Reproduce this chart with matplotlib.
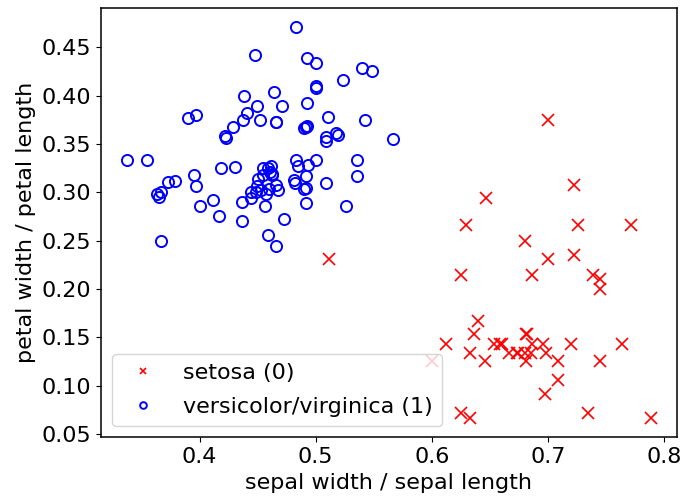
import numpy as np
import matplotlib
matplotlib.use("Agg")
import matplotlib.pyplot as plt

plt.rcParams['font.size'] = 16
plt.rcParams['axes.linewidth'] = 1.1

# iris rows shown in the chart: sepal length, sepal width, petal length, petal width
setosa_sl = [5.1, 4.9, 4.7, 4.6, 5.0, 5.4, 4.6, 5.0, 4.4, 4.9, 5.4, 4.8, 4.8, 4.3,
             5.7, 5.4, 5.1, 5.1, 5.1, 5.1, 4.8, 5.0, 5.0, 5.2, 5.2, 4.7, 4.8, 5.4, 5.2, 5.5,
             4.9, 5.0, 5.5, 4.9, 4.4, 5.1, 5.0, 4.5, 5.0, 5.1, 4.8, 5.1, 4.6, 5.3, 5.0]
setosa_sw = [3.5, 3.0, 3.2, 3.1, 3.6, 3.9, 3.4, 3.4, 2.9, 3.1, 3.7, 3.4, 3.0, 3.0,
             4.4, 3.9, 3.5, 3.8, 3.7, 3.3, 3.4, 3.0, 3.4, 3.5, 3.4, 3.2, 3.1, 3.4, 4.1, 4.2,
             3.1, 3.2, 3.5, 3.6, 3.0, 3.4, 3.5, 2.3, 3.5, 3.8, 3.0, 3.8, 3.2, 3.7, 3.3]
setosa_pl = [1.4, 1.4, 1.3, 1.5, 1.4, 1.7, 1.4, 1.5, 1.4, 1.5, 1.5, 1.6, 1.4, 1.1,
             1.5, 1.3, 1.4, 1.5, 1.5, 1.7, 1.9, 1.6, 1.6, 1.5, 1.4, 1.6, 1.6, 1.5, 1.5, 1.4,
             1.5, 1.2, 1.3, 1.4, 1.3, 1.5, 1.3, 1.3, 1.6, 1.9, 1.4, 1.6, 1.4, 1.5, 1.4]
setosa_pw = [0.2, 0.2, 0.2, 0.2, 0.2, 0.4, 0.3, 0.2, 0.2, 0.1, 0.2, 0.2, 0.1, 0.1,
             0.4, 0.4, 0.3, 0.3, 0.4, 0.5, 0.2, 0.2, 0.4, 0.2, 0.2, 0.2, 0.2, 0.4, 0.1, 0.2,
             0.2, 0.2, 0.2, 0.1, 0.2, 0.2, 0.3, 0.3, 0.6, 0.4, 0.3, 0.2, 0.2, 0.2, 0.2]

versicolor_sl = [7.0, 6.4, 6.9, 5.5, 6.5, 5.7, 4.9, 5.2, 5.0, 5.9, 6.0, 5.6, 6.7, 5.6, 5.8,
                 6.2, 5.9, 6.1, 6.3, 6.1, 6.4, 6.6, 6.8, 6.0, 5.7, 5.5, 5.5, 5.8, 6.0, 6.0,
                 6.7, 6.3, 5.6, 5.5, 5.5, 6.1, 5.8, 5.0, 5.6, 5.7, 5.7, 6.2, 5.1, 5.7]
versicolor_sw = [3.2, 3.2, 3.1, 2.3, 2.8, 2.8, 2.4, 2.7, 2.0, 3.0, 2.2, 2.9, 3.1, 3.0, 2.7,
                 2.2, 3.2, 2.8, 2.5, 2.8, 2.9, 3.0, 2.8, 2.9, 2.6, 2.4, 2.4, 2.7, 2.7, 3.4,
                 3.1, 2.3, 3.0, 2.5, 2.6, 3.0, 2.6, 2.3, 2.7, 3.0, 2.9, 2.9, 2.5, 2.8]
versicolor_pl = [4.7, 4.5, 4.9, 4.0, 4.6, 4.5, 3.3, 3.9, 3.5, 4.2, 4.0, 3.6, 4.4, 4.5, 4.1,
                 4.5, 4.8, 4.0, 4.9, 4.7, 4.3, 4.4, 4.8, 4.5, 3.5, 3.8, 3.7, 3.9, 5.1, 4.5,
                 4.7, 4.4, 4.1, 4.0, 4.4, 4.6, 4.0, 3.3, 4.2, 4.2, 4.2, 4.3, 3.0, 4.1]
versicolor_pw = [1.4, 1.5, 1.5, 1.3, 1.5, 1.3, 1.0, 1.4, 1.0, 1.5, 1.0, 1.3, 1.4, 1.5, 1.0,
                 1.5, 1.8, 1.3, 1.5, 1.2, 1.3, 1.4, 1.4, 1.5, 1.0, 1.1, 1.0, 1.2, 1.6, 1.6,
                 1.5, 1.3, 1.3, 1.3, 1.2, 1.4, 1.2, 1.0, 1.3, 1.2, 1.3, 1.3, 1.1, 1.3]

virginica_sl = [6.3, 5.8, 7.1, 6.3, 7.6, 4.9, 6.7, 7.2, 6.5, 6.4, 6.8, 5.7, 5.8, 6.4, 6.5,
                7.7, 7.7, 6.0, 6.9, 5.6, 7.7, 6.3, 6.7, 7.2, 6.2, 6.1, 6.4, 7.2, 7.4, 7.9,
                6.3, 7.7, 6.3, 6.4, 6.9, 5.8, 6.8, 6.7, 6.7, 6.3, 6.2, 5.9]
virginica_sw = [3.3, 2.7, 3.0, 2.9, 3.0, 2.5, 2.5, 3.6, 3.2, 2.7, 3.0, 2.5, 2.8, 3.2, 3.0,
                3.8, 2.6, 2.2, 3.2, 2.8, 2.8, 2.7, 3.3, 3.2, 2.8, 3.0, 2.8, 3.0, 2.8, 3.8,
                2.8, 3.0, 3.4, 3.1, 3.1, 2.7, 3.2, 3.3, 3.0, 2.5, 3.4, 3.0]
virginica_pl = [6.0, 5.1, 5.9, 5.6, 6.6, 4.5, 5.8, 6.1, 5.1, 5.3, 5.5, 5.0, 5.1, 5.3, 5.5,
                6.7, 6.9, 5.0, 5.7, 4.9, 6.7, 4.9, 5.7, 6.0, 4.8, 4.9, 5.6, 5.8, 6.1, 6.4,
                5.1, 6.1, 5.6, 5.5, 5.4, 5.1, 5.9, 5.7, 5.2, 5.0, 5.4, 5.1]
virginica_pw = [2.5, 1.9, 2.1, 1.8, 2.1, 1.7, 1.8, 2.5, 2.0, 1.9, 2.1, 2.0, 2.4, 2.3, 1.8,
                2.2, 2.3, 1.5, 2.3, 2.0, 2.0, 1.8, 2.1, 1.8, 1.8, 1.8, 2.1, 1.6, 1.9, 2.0,
                1.5, 2.3, 2.4, 1.8, 2.1, 1.9, 2.3, 2.5, 2.3, 1.9, 2.3, 1.8]

x0 = np.array(setosa_sw) / np.array(setosa_sl)
y0 = np.array(setosa_pw) / np.array(setosa_pl)
x1 = np.array(versicolor_sw + virginica_sw) / np.array(versicolor_sl + virginica_sl)
y1 = np.array(versicolor_pw + virginica_pw) / np.array(versicolor_pl + virginica_pl)

fig = plt.figure(figsize=(6.83, 4.98), dpi=100)
ax = fig.add_subplot(111)
ax.plot(x0, y0, 'x', color='red', markersize=8, markeredgewidth=1.2, label='setosa (0)')
ax.plot(x1, y1, 'o', color='blue', markerfacecolor='none', markersize=8,
        markeredgewidth=1.4, label='versicolor/virginica (1)')
ax.set_xlabel('sepal width / sepal length')
ax.set_ylabel('petal width / petal length')
ax.legend(loc='lower left', markerscale=0.6, labelspacing=0.65)
plt.subplots_adjust(left=0.148, right=0.991, top=0.984, bottom=0.122)
fig.savefig('out.png', dpi=100)
